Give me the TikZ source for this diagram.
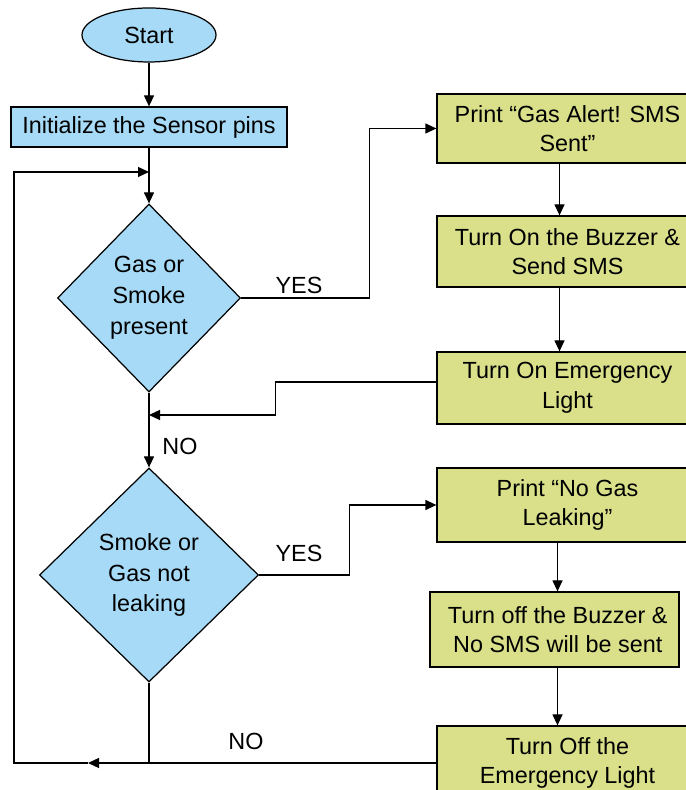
\documentclass[tikz,border=0pt]{standalone}
\usepackage{fontspec}
\setmainfont{Liberation Sans}
\usetikzlibrary{arrows.meta,shapes.geometric}
\definecolor{flowblue}{RGB}{166,218,246}
\definecolor{flowgreen}{RGB}{217,224,137}
\tikzset{
	every node/.style={font=\fontsize{13.3}{16.8}\selectfont},
	startnode/.style={ellipse,draw,line width=0.7pt,fill=flowblue,minimum width=2.68cm,minimum height=1.08cm,inner sep=0},
	initbox/.style={rectangle,draw,line width=0.7pt,fill=flowblue,minimum width=5.52cm,minimum height=0.8cm,inner sep=0},
	decision/.style={diamond,draw,line width=0.7pt,fill=flowblue,align=center,inner sep=0,font=\fontsize{13.3}{17.6}\selectfont},
	actbox/.style={rectangle,draw,line width=0.7pt,fill=flowgreen,align=center,minimum width=5.22cm,inner sep=0},
	flow/.style={line width=0.7pt,-{Triangle[length=0.22cm,width=0.2cm]}},
	link/.style={line width=0.7pt},
	lbl/.style={inner sep=0}
}

\begin{document}
\begin{tikzpicture}
	%%%%% START %%%%%
	\useasboundingbox (0,0) rectangle (13.7,15.8);
	
	\node[startnode] (start) at (2.98, 15.1) {Start};
	\node[initbox] (init) at (2.98, 13.26) {Initialize the Sensor pins};
	
	\node[decision,minimum width=3.66cm,minimum height=3.76cm] (d1) at (2.98, 9.84) {Gas or\\Smoke\\present};
	\node[decision,minimum width=4.38cm,minimum height=4.28cm] (d2) at (2.98, 4.3) {Smoke or\\Gas not\\leaking};
	
	\node[actbox,minimum height=1.38cm] (p1) at (11.35, 13.23) {Print “Gas Alert! SMS\\Sent”};
	\node[actbox,minimum height=1.42cm] (p2) at (11.35, 10.77) {Turn On the Buzzer \&\\Send SMS};
	\node[actbox,minimum height=1.44cm] (p3) at (11.35, 8.04) {Turn On Emergency\\Light};
	
	\node[actbox,minimum height=1.48cm] (q1) at (11.35, 5.70) {Print “No Gas\\Leaking”};
	\node[actbox,minimum height=1.5cm,minimum width=4.98cm] (q2) at (11.09, 3.21) {\ Turn off the Buzzer \&\\\ No SMS will be sent};
	\node[actbox,minimum height=1.48cm] (q3) at (11.35, 0.54) {Turn Off the\\Emergency Light};
	
	\coordinate (colP) at (11.19, 0);
	\coordinate (colQ) at (11.15, 0);
	\coordinate (merge1) at (2.98, 12.36);
	\coordinate (merge2) at (2.98, 7.5);
	\coordinate (loopA) at (1.76, 0.56);
	\coordinate (loopB) at (0.28, 0.56);
	
	% main line
	\draw[flow] (start) -- (init);
	\draw[flow] (init) -- (d1);
	\draw[flow] (d1.south) -- (d2.north);
	
	% yes branch, gas present
	\draw[flow] (d1.east) -- ++(2.56,0) |- (p1.west);
	\draw[flow] (p1.south -| colP) -- (p2.north -| colP);
	\draw[flow] (p2.south -| colP) -- (p3.north -| colP);
	\draw[flow] ([yshift=0.12cm]p3.west) -- ++(-3.22,0) |- (merge2);
	
	% yes branch, no leak
	\draw[flow] (d2.east) -- ++(1.8,0) |- (q1.west);
	\draw[flow] (q1.south -| colQ) -- (q2.north -| colQ);
	\draw[flow] (q2.south -| colQ) -- (q3.north -| colQ);
	
	% back to the top
	\draw[flow] (q3.west) -- (q3.west -| loopA);
	\draw[flow] (q3.west -| loopA) -- (q3.west -| loopB) |- (merge1);
	\draw[link] (d2.south) -- (d2.south |- q3.west);
	
	\node[lbl] (yes1) at (5.98, 10.1) {YES};
	\node[lbl] (no1) at (3.6, 6.88) {NO};
	\node[lbl] (yes2) at (5.98, 4.74) {YES};
	\node[lbl] (no2) at (4.92, 0.98) {NO};
	%%%%% END %%%%%
\end{tikzpicture}
\end{document}
